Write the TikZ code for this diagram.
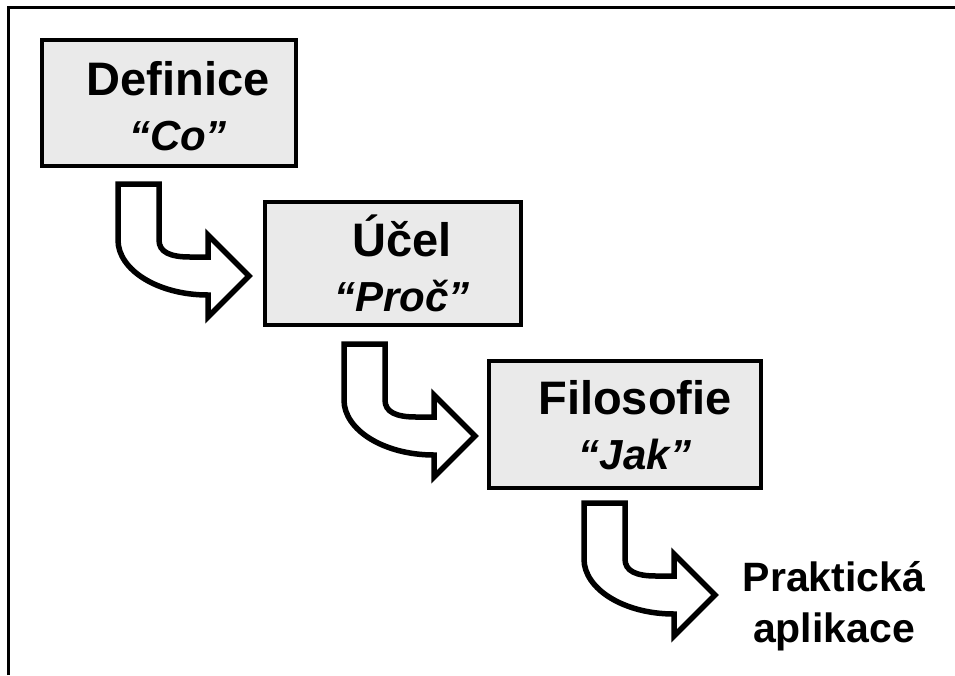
\documentclass[tikz,border=0pt]{standalone}
\usepackage{fontspec}
\setmainfont{Liberation Sans}
\usepackage{tikz}
\usetikzlibrary{positioning}
\definecolor{boxgray}{RGB}{234,234,234}

\tikzset{
	stage/.style={draw, fill=boxgray, line width=4.5pt, rectangle, inner sep=0pt, outer sep=0pt},
	stagetext/.style={align=center, font=\fontsize{47}{55}\selectfont\bfseries},
	uturn/.pic={
		\draw[line width=5.5pt, fill=white, line join=miter] (0,0) -- (41,0) -- (41,56)
			.. controls (41,68) and (52,73) .. (72,73) -- (90,73) -- (90,51)
			-- (131,92) -- (90,133) -- (90,111)
			.. controls (40,111) and (0,86) .. (0,56) -- cycle;
	}
}

\begin{document}
\begin{tikzpicture}[x=1pt, y=-1pt]
		\useasboundingbox (0,0) rectangle (955,675);

		% frame
		\draw [line width=3pt] (8,675) -- (8,7) -- (955,7);

		% boxes
		\node[stage, minimum width=254pt, minimum height=126pt] (def) at (169,103) {};
		\node[stage, minimum width=256pt, minimum height=123pt] (ucel) at (393,263.5) {};
		\node[stage, minimum width=272pt, minimum height=127pt] (filo) at (625,424.5) {};

		\node[stagetext] (deftxt) at ([xshift=9pt,yshift=-3pt]def.center) {Definice\\{\fontsize{42}{55}\selectfont\itshape “Co”}};
		\node[stagetext] (uceltxt) at ([xshift=9pt]ucel.center) {Účel\\{\fontsize{42}{55}\selectfont\itshape “Proč”}};
		\node[stagetext] (filotxt) at ([xshift=10pt,yshift=-1pt]filo.center) {Filosofie\\{\fontsize{42}{55}\selectfont\itshape “Jak”}};

		% arrows
		\pic at (118,184) {uturn};
		\pic at (344,344) {uturn};
		\pic at (584,503) {uturn};

		\node[align=center, font=\fontsize{41}{51}\selectfont\bfseries] (prax) at (834,606) {Praktická\\aplikace};
	\end{tikzpicture}
\end{document}
